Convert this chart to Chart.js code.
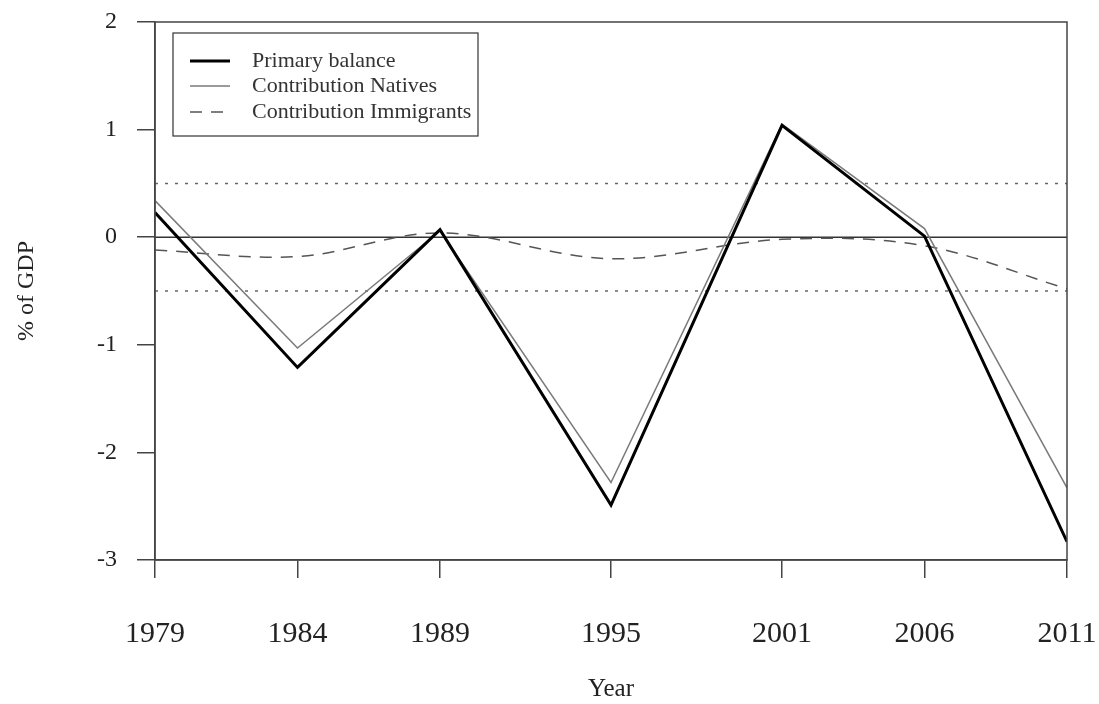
<!DOCTYPE html>
<html>
<head>
<meta charset="utf-8">
<script src="https://cdn.jsdelivr.net/npm/chart.js@4/dist/chart.umd.min.js"></script>
<style>
  body { margin: 0; background: #fff; }
  canvas { display: block; }
</style>
</head>
<body>
<canvas id="chart" width="1099" height="704"></canvas>
<script>
// data
const years = [1979, 1984, 1989, 1995, 2001, 2006, 2011];
const primaryBalance = [0.23, -1.21, 0.07, -2.49, 1.04, 0.01, -2.83];
const contribNatives = [0.34, -1.03, 0.06, -2.28, 1.05, 0.08, -2.33];
const contribImmigrants = [-0.12, -0.18, 0.04, -0.20, -0.02, -0.08, -0.48];
const yTicks = [2, 1, 0, -1, -2, -3];
const refLevels = [0.5, 0, -0.5];

const serif = '"Liberation Serif", "DejaVu Serif", serif';

function toPoints(vals) {
    return years.map((yr, i) => ({ x: yr, y: vals[i] }));
}

function refLine(level) {
    return {
        label: 'ref' + level,
        data: [{ x: years[0], y: level }, { x: years[years.length - 1], y: level }],
        borderColor: level === 0 ? '#333' : '#666',
        borderWidth: 1.5,
        borderDash: level === 0 ? [] : [3, 7],
        pointRadius: 0,
        inLegend: false
    };
}

// box round the plot + legend inside it
const boxPlugin = {
    id: 'box',
    afterDraw(chart) {
        const { ctx, chartArea: a } = chart;
        ctx.save();
        ctx.strokeStyle = '#444';
        ctx.lineWidth = 1.5;
        ctx.strokeRect(a.left, a.top, a.right - a.left, a.bottom - a.top);

        const lx = a.left + 18, ly = a.top + 11, lw = 305, lh = 103;
        ctx.lineWidth = 1.2;
        ctx.strokeStyle = '#333';
        ctx.strokeRect(lx, ly, lw, lh);

        ctx.font = '22px ' + serif;
        ctx.fillStyle = '#333';
        ctx.textBaseline = 'middle';
        const rowY = [ly + 28, ly + 53, ly + 79];
        chart.data.datasets.filter(d => d.inLegend).forEach((ds, i) => {
            ctx.beginPath();
            ctx.strokeStyle = ds.borderColor;
            ctx.lineWidth = ds.borderWidth;
            ctx.setLineDash(ds.borderDash || []);
            ctx.moveTo(lx + 17, rowY[i]);
            ctx.lineTo(lx + 57, rowY[i]);
            ctx.stroke();
            ctx.setLineDash([]);
            ctx.fillText(ds.label, lx + 79, rowY[i]);
        });
        ctx.restore();
    }
};

new Chart(document.getElementById('chart'), {
    type: 'line',
    data: {
        // first dataset is drawn on top
        datasets: [
            {
                label: 'Primary balance',
                data: toPoints(primaryBalance),
                borderColor: '#000',
                borderWidth: 3,
                pointRadius: 0,
                inLegend: true
            },
            {
                label: 'Contribution Natives',
                data: toPoints(contribNatives),
                borderColor: '#7a7a7a',
                borderWidth: 1.5,
                pointRadius: 0,
                inLegend: true
            },
            {
                label: 'Contribution Immigrants',
                data: toPoints(contribImmigrants),
                borderColor: '#555',
                borderWidth: 1.5,
                borderDash: [12, 9],
                tension: 0.35,
                pointRadius: 0,
                inLegend: true
            },
            ...refLevels.map(refLine)
        ]
    },
    options: {
        responsive: false,
        animation: false,
        layout: { padding: { top: 22, right: 32, left: 0, bottom: 0 } },
        plugins: {
            legend: { display: false },
            tooltip: { enabled: false }
        },
        scales: {
            x: {
                type: 'linear',
                min: years[0],
                max: years[years.length - 1],
                afterFit(scale) {
                    scale.height = 144;
                    scale.paddingLeft = 0;
                    scale.paddingRight = 0;
                },
                afterBuildTicks(scale) { scale.ticks = years.map(v => ({ value: v })); },
                grid: { drawOnChartArea: false, drawTicks: true, tickLength: 18, color: '#444', lineWidth: 1.5 },
                border: { display: true, color: '#444', width: 1.5 },
                ticks: {
                    autoSkip: false,
                    maxRotation: 0,
                    padding: 38,
                    color: '#222',
                    font: { family: serif, size: 30 },
                    callback: v => String(v)
                },
                title: {
                    display: true,
                    text: 'Year',
                    color: '#222',
                    font: { family: serif, size: 25 },
                    padding: { top: 0, bottom: 0 }
                }
            },
            y: {
                min: -3,
                max: 2,
                afterFit(scale) {
                    scale.width = 155;
                    scale.paddingTop = 0;
                    scale.paddingBottom = 0;
                },
                afterBuildTicks(scale) { scale.ticks = yTicks.map(v => ({ value: v })); },
                grid: { drawOnChartArea: false, drawTicks: true, tickLength: 18, color: '#444', lineWidth: 1.5 },
                border: { display: true, color: '#444', width: 1.5 },
                ticks: {
                    padding: 20,
                    color: '#222',
                    font: { family: serif, size: 24 },
                    callback: v => String(v)
                },
                title: {
                    display: true,
                    text: '% of GDP',
                    color: '#222',
                    font: { family: serif, size: 24 },
                    padding: { top: 12, bottom: 0 }
                }
            }
        }
    },
    plugins: [boxPlugin]
});
</script>
</body>
</html>
